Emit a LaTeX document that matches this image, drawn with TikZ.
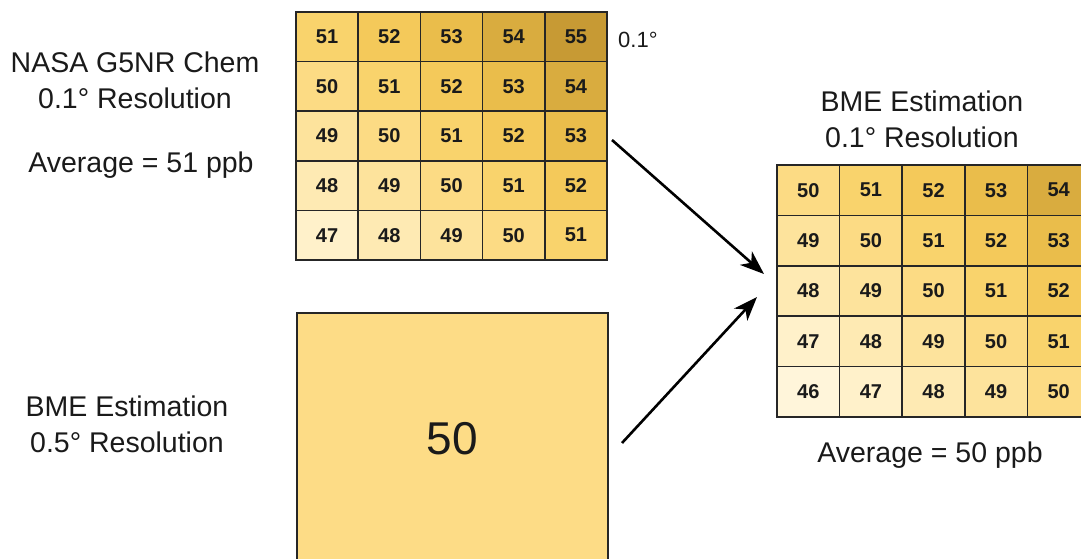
\documentclass[tikz,border=0pt]{standalone}
\usepackage{fontspec}
\setmainfont{Liberation Sans}
\usetikzlibrary{arrows.meta}
\definecolor{v46}{HTML}{FFF5DA}
\definecolor{v47}{HTML}{FFF1CA}
\definecolor{v48}{HTML}{FEEAB3}
\definecolor{v49}{HTML}{FDE39C}
\definecolor{v50}{HTML}{FCDB84}
\definecolor{v51}{HTML}{F9D36C}
\definecolor{v52}{HTML}{F4C95A}
\definecolor{v53}{HTML}{EABD4B}
\definecolor{v54}{HTML}{D9AC3F}
\definecolor{v55}{HTML}{C79A34}
\definecolor{boxfill}{HTML}{FDDC86}
\definecolor{ink}{HTML}{1A1A1A}
\definecolor{gridline}{HTML}{262626}
\tikzset{
  cell/.style={draw=gridline, line width=1.5pt, inner sep=0pt, text=ink,
    font=\fontsize{20}{22}\selectfont\bfseries},
  lbl/.style={text=ink, align=center, inner sep=0pt,
    font=\fontsize{28.5}{36}\selectfont},
  arr/.style={line width=2.6pt, -{Stealth[length=24pt,width=18pt,inset=7pt]}},
}
\begin{document}
\begin{tikzpicture}[x=1pt,y=-1pt]
\useasboundingbox (0,0) rectangle (1081,559);
\clip (0,0) rectangle (1081,559);
% top grid
\foreach \r in {0,...,4}{
  \foreach \c in {0,...,4}{
    \pgfmathtruncatemacro\v{51+\c-\r}
    \node[cell, fill=v\v, minimum width=62.2pt, minimum height=49.6pt]
      (a-\r-\c) at ({296+62.2*(\c+0.5)},{12+49.6*(\r+0.5)}) {\v};
  }
}
% right grid
\foreach \r in {0,...,4}{
  \foreach \c in {0,...,4}{
    \pgfmathtruncatemacro\v{50+\c-\r}
    \node[cell, fill=v\v, minimum width=62.6pt, minimum height=50.4pt]
      (b-\r-\c) at ({777+62.6*(\c+0.5)},{165+50.4*(\r+0.5)}) {\v};
  }
}
% coarse box
\node[draw=gridline, line width=1.5pt, fill=boxfill, minimum width=311pt,
  minimum height=252pt, anchor=north west, text=ink,
  font=\fontsize{46}{50}\selectfont] (coarse) at (296,312) {50};
% labels
\node[lbl] (nasa) at (135,80) {NASA G5NR Chem\\0.1° Resolution};
\node[lbl] (avg1) at (141,165) {Average = 51 ppb};
\node[lbl] (bme5) at (127,424) {BME Estimation\\0.5° Resolution};
\node[lbl] (bme1) at (922,119) {BME Estimation\\0.1° Resolution};
\node[lbl] (avg2) at (930,455) {Average = 50 ppb};
\node[text=ink, inner sep=0pt, anchor=west, font=\fontsize{22}{24}\selectfont] (deg) at (618,40) {0.1°};
% arrows
\coordinate (s1) at (612,140);
\coordinate (e1) at (764,274);
\coordinate (s2) at (622,443);
\coordinate (e2) at (757,297);
\draw[arr] (s1) -- (e1);
\draw[arr] (s2) -- (e2);
\end{tikzpicture}
\end{document}
